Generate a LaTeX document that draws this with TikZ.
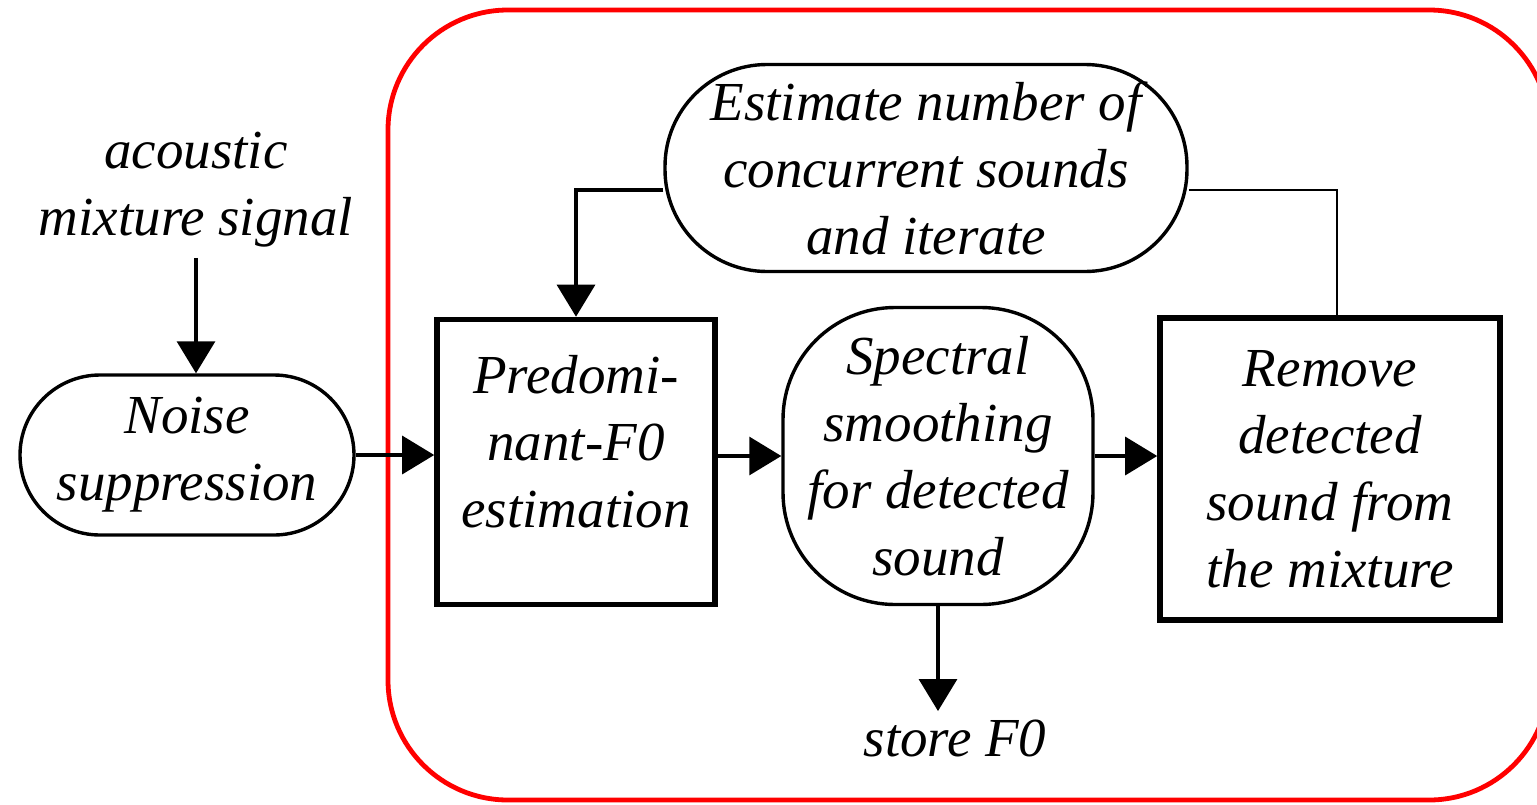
\documentclass[tikz,border=0pt]{standalone}
\usepackage{fontspec}
\setmainfont{Liberation Serif}
\usetikzlibrary{arrows.meta,calc}

\begin{document}
\begin{tikzpicture}[x=0.5pt,y=-0.5pt,
  lbl/.style={font=\fontsize{27.5}{33.5}\selectfont\itshape, align=center, inner sep=0pt},
  sqbox/.style={draw, line width=2.8pt, inner sep=0pt},
  rbox/.style={draw, line width=1.7pt, inner sep=0pt},
  conn/.style={line width=1.6pt, -{Triangle[length=16pt,width=19pt]}},
  plain/.style={line width=1.1pt}
]
\useasboundingbox (0,0) rectangle (1537,804);

% surrounding frame of the iterative part
\begin{scope}
  \clip (0,0) rectangle (1537,804);
  \draw[red, line width=2.4pt, rounded corners=60pt] (388,10) rectangle (1549,800);
\end{scope}

% input
\node[lbl] (sig) at (196,190) {acoustic\\mixture signal};

% blocks
\node[rbox, lbl, rounded corners=40pt,
      minimum width=167pt, minimum height=80pt] (noise) at (187,455)
      {Noise\\suppression};

\node[sqbox, minimum width=139pt, minimum height=142.5pt] (pre) at (576,462) {};
\node[lbl] (pretxt) at (576,442) {Predomi-\\nant-F0\\estimation};

\node[rbox, lbl, rounded corners=56pt,
      minimum width=155pt, minimum height=148.5pt] (spec) at (938,456)
      {Spectral\\smoothing\\for detected\\sound};

\node[sqbox, lbl,
      minimum width=170pt, minimum height=151pt] (rem) at (1330,469)
      {Remove\\detected\\sound from\\the mixture};

\node[rbox, lbl, rounded corners=51pt,
      minimum width=261pt, minimum height=103.5pt] (est) at (926,168)
      {Estimate number of\\concurrent sounds\\and iterate};

\node[lbl, inner sep=4pt] (store) at (955,738) {store F0};

% connectors
\draw[conn, shorten <=5pt] (sig.south) -- (sig.south |- noise.north);
\draw[conn] (noise.east) -- (noise.east -| pre.west);
\draw[conn] (spec.west -| pre.east) -- (spec.west);
\draw[conn] (spec.east) -- (spec.east -| rem.west);
\draw[conn] ([yshift=-11pt]est.west) -| (pre.north);
\draw[plain] ([yshift=-11pt]est.east) -| ([xshift=3.5pt]rem.north);
\draw[conn] (spec.south) -- (spec.south |- store.north);
\end{tikzpicture}
\end{document}
